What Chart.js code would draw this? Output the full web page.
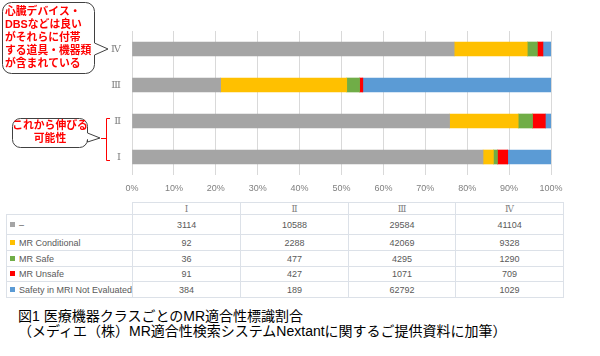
<!DOCTYPE html>
<html><head><meta charset="utf-8">
<script src="https://cdn.jsdelivr.net/npm/chart.js@4"></script>
<style>
html,body{margin:0;padding:0;background:#fff;width:600px;height:356px;overflow:hidden;}
#wrap{position:absolute;left:0;top:0;width:600px;height:200px;}
table{position:absolute;left:6px;top:202px;border-collapse:collapse;font-family:"Liberation Sans",Arial,sans-serif;font-size:9px;color:#595959;table-layout:fixed;}
td{border:1px solid #DCE1E8;padding:0;text-align:center;white-space:nowrap;overflow:hidden;}
td.lab{text-align:left;padding-left:3px;}
td.blank{border-top:none;border-left:none;}
.roman{font-family:"DejaVu Serif","Liberation Serif",serif;font-size:9px;color:#808080;}
.sw{display:inline-block;width:5px;height:5px;margin-right:4px;vertical-align:1px;}
#cap{position:absolute;left:18px;top:309px;font-family:"Liberation Sans","Noto Sans CJK JP",sans-serif;font-size:14px;line-height:14.5px;color:#000;white-space:nowrap;}
</style></head>
<body>
<div id="wrap"><canvas id="c"></canvas></div>
<table id="tbl"></table>
<div id="cap">図1 医療機器クラスごとのMR適合性標識割合<br>（メディエ（株）MR適合性検索システムNextantに関するご提供資料に加筆）</div>
<script>
const categories = ['Ⅰ','Ⅱ','Ⅲ','Ⅳ'];
const seriesNames = ['–','MR Conditional','MR Safe','MR Unsafe','Safety in MRI Not Evaluated'];
const seriesColors = ['#A5A5A5','#FFC000','#70AD47','#FF0000','#5B9BD5'];
const valsDash = [3114, 10588, 29584, 41104];
const valsConditional = [92, 2288, 42069, 9328];
const valsSafe = [36, 477, 4295, 1290];
const valsUnsafe = [91, 427, 1071, 709];
const valsNotEvaluated = [384, 189, 62792, 1029];
const xTicks = [0,10,20,30,40,50,60,70,80,90,100];

const allVals = [valsDash, valsConditional, valsSafe, valsUnsafe, valsNotEvaluated];
const totals = categories.map((_, i) => allVals.reduce((s, a) => s + a[i], 0));

const datasets = allVals.map((arr, k) => ({
  label: seriesNames[k],
  data: arr.map((v, i) => v / totals[i] * 100),
  backgroundColor: seriesColors[k],
  borderWidth: 0,
  barThickness: 14
}));

const annot = {
  id: 'annot',
  afterDraw(chart) {
    const ctx = chart.ctx;
    ctx.save();
    function bubble(x1, y1, x2, y2, r, py1, py2, tx, ty) {
      ctx.beginPath();
      ctx.moveTo(x1 + r, y1);
      ctx.lineTo(x2 - r, y1);
      ctx.arcTo(x2, y1, x2, y1 + r, r);
      ctx.lineTo(x2, py1);
      ctx.lineTo(tx, ty);
      ctx.lineTo(x2, py2);
      ctx.lineTo(x2, y2 - r);
      ctx.arcTo(x2, y2, x2 - r, y2, r);
      ctx.lineTo(x1 + r, y2);
      ctx.arcTo(x1, y2, x1, y2 - r, r);
      ctx.lineTo(x1, y1 + r);
      ctx.arcTo(x1, y1, x1 + r, y1, r);
      ctx.closePath();
      ctx.fillStyle = '#fff';
      ctx.fill();
      ctx.strokeStyle = '#404040';
      ctx.lineWidth = 1;
      ctx.stroke();
    }
    bubble(2.5, 2.5, 94.5, 73.5, 9, 43, 55, 108, 49);
    bubble(12.5, 118.5, 87.5, 147.5, 8, 133, 142, 100, 138);
    ctx.fillStyle = '#FF0000';
    ctx.font = 'bold 10.8px "Liberation Sans","Noto Sans CJK JP",sans-serif';
    ctx.textBaseline = 'middle';
    ctx.textAlign = 'left';
    const l1 = ['心臓デバイス・','DBSなどは良い','がそれらに付帯','する道具・機器類','が含まれている'];
    l1.forEach((t, i) => ctx.fillText(t, 5, 12.5 + i * 13));
    ctx.textAlign = 'center';
    ctx.fillText('これから伸びる', 50, 126);
    ctx.fillText('可能性', 50, 139);
    // bracket
    ctx.strokeStyle = '#FF0000';
    ctx.lineWidth = 1;
    ctx.beginPath();
    ctx.moveTo(110, 118.5); ctx.lineTo(106.5, 118.5); ctx.lineTo(106.5, 160.5); ctx.lineTo(110, 160.5);
    ctx.moveTo(106.5, 138.5); ctx.lineTo(101, 138.5);
    ctx.stroke();
    ctx.restore();
  }
};

new Chart(document.getElementById('c'), {
  type: 'bar',
  data: { labels: categories, datasets },
  options: {
    indexAxis: 'y',
    responsive: true,
    maintainAspectRatio: false,
    animation: false,
    layout: { padding: { top: 31, right: 49, left: 0, bottom: 0 } },
    plugins: { legend: { display: false }, tooltip: { enabled: false } },
    scales: {
      x: {
        stacked: true, min: 0, max: 100,
        afterBuildTicks(s) { s.ticks = xTicks.map(v => ({ value: v })); },
        afterFit(s) { s.height = 25; },
        grid: { color: '#D9D9D9', drawTicks: false },
        border: { display: false },
        ticks: { callback: v => v + '%', padding: 8, color: '#808080', font: { family: '"Liberation Sans", Arial, sans-serif', size: 9 } }
      },
      y: {
        stacked: true, reverse: true,
        afterFit(s) { s.width = 132; },
        grid: { display: false, drawTicks: false },
        border: { display: false },
        ticks: { padding: 11, color: '#808080', font: { family: '"DejaVu Serif","Liberation Serif",serif', size: 10 } }
      }
    }
  },
  plugins: [annot]
});

// table built from the same arrays
const tbl = document.getElementById('tbl');
const widths = [125, 108, 108, 107, 108];
const heights = [12, 20, 16, 16, 15, 16];
let cg = '<colgroup>' + widths.map(w => `<col style="width:${w}px">`).join('') + '</colgroup>';
let html = cg + `<tr style="height:${heights[0]}px"><td class="blank"></td>` + categories.map(c => `<td class="roman">${c}</td>`).join('') + '</tr>';
allVals.forEach((arr, k) => {
  html += `<tr style="height:${heights[k+1]}px"><td class="lab"><span class="sw" style="background:${seriesColors[k]}"></span>${seriesNames[k]}</td>` + arr.map(v => `<td>${v}</td>`).join('') + '</tr>';
});
tbl.innerHTML = html;
</script>
</body></html>
